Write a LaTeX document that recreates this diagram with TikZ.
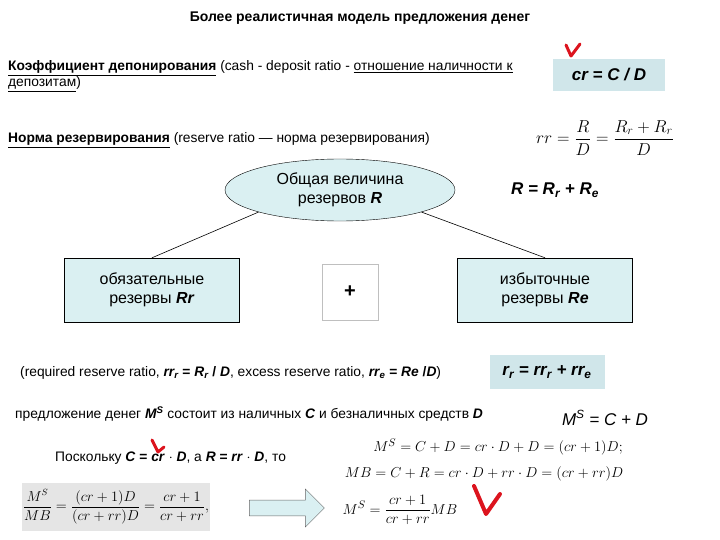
\documentclass[tikz,border=0pt]{standalone}
\usepackage{amsmath}
\usepackage{fontspec}
\setmainfont{Liberation Sans}
\usetikzlibrary{shapes.geometric,shapes.arrows}
\definecolor{lb}{RGB}{208,230,234}
\definecolor{lb2}{RGB}{218,240,242}
\definecolor{chk}{RGB}{220,20,30}
\tikzset{
 txt/.style={anchor=west,inner sep=0,font=\fontsize{13.8}{16}\selectfont},
 blk/.style={draw=black,fill=lb2,minimum width=175pt,minimum height=64pt,align=center,font=\fontsize{16}{19}\selectfont},
 fbox/.style={fill=lb,inner sep=4pt,font=\fontsize{17}{20}\selectfont\bfseries\itshape},
 conn/.style={draw=black,line width=0.6pt},
 check/.style={draw=chk,line width=3pt,line cap=round,line join=round}
}
\begin{document}
\begin{tikzpicture}[x=1pt,y=-1pt]
\useasboundingbox (0,0) rectangle (720,540);
\node (title) at (360,18) {\fontsize{14}{16}\selectfont\bfseries Более реалистичная модель предложения денег};
\node[txt,align=left,anchor=north west] (l1) at (8,60) {\underline{\bfseries Коэффициент депонирования} (cash - deposit ratio - \underline{отношение наличности к}\\ \underline{депозитам})};
\node[fbox,minimum width=112pt,minimum height=32pt] (cr) at (609,75) {cr = C / D};
\node[txt] (l2) at (8,140) {\underline{\bfseries Норма резервирования} (reserve ratio — норма резервирования)};
\node (rrf) at (605,138) {\fontsize{17}{20}\selectfont $rr=\dfrac{R}{D}=\dfrac{R_r+R_r}{D}$};
\node[ellipse,draw=black,fill=lb2,minimum width=230pt,minimum height=62pt,align=center,font=\fontsize{16}{19}\selectfont] (ell) at (340,190) {Общая величина\\ резервов \textbf{\textit{R}}};
\node (req) at (555,190) {\fontsize{17}{20}\selectfont\bfseries\itshape R = R\textsubscript{r} + R\textsubscript{e}};
\node[blk] (left) at (152,290) {обязательные\\ резервы \textbf{\textit{Rr}}};
\node[blk] (right) at (545,290) {избыточные\\ резервы \textbf{\textit{Re}}};
\node[draw=black!25,fill=white,minimum width=56pt,minimum height=56pt,font=\fontsize{20}{24}\selectfont\bfseries] (plus) at (350,292) {+};
\draw[conn] (left.north) -- (ell.south west);
\draw[conn] (right.north) -- (ell.south east);
\node[txt] (l3) at (20,373) {(required reserve ratio, \textbf{\textit{rr\textsubscript{r}} = \textit{R\textsubscript{r}} / \textit{D}}, excess reserve ratio, \textbf{\textit{rr\textsubscript{e}} = \textit{Re} /\textit{D}})};
\node[fbox,minimum width=115pt,minimum height=34pt] (rrbox) at (547,372) {r\textsubscript{r} = rr\textsubscript{r} + rr\textsubscript{e}};
\node[txt] (l4) at (15,414) {предложение денег \textbf{\textit{M\textsuperscript{S}}} состоит из наличных \textbf{\textit{C}} и безналичных средств \textbf{\textit{D}}};
\node (msf) at (605,418) {\fontsize{17}{20}\selectfont\itshape M\textsuperscript{S} = C + D};
\node[txt] (l5) at (55,458) {Поскольку \textbf{\textit{C} = \textit{cr} $\cdot$ \textit{D}}, а \textbf{\textit{R} = \textit{rr} $\cdot$ \textit{D}}, то};
\node (f1) at (498,447) {\fontsize{15}{18}\selectfont $M^S=C+D=cr\cdot D+D=(cr+1)D;$};
\node (f2) at (484,474) {\fontsize{15}{18}\selectfont $MB=C+R=cr\cdot D+rr\cdot D=(cr+rr)D$};
\node[fill=black!10,minimum width=188pt,minimum height=48pt,inner sep=0] (lf) at (116,507) {\fontsize{13.5}{16}\selectfont $\dfrac{M^S}{MB}=\dfrac{(cr+1)D}{(cr+rr)D}=\dfrac{cr+1}{cr+rr},$};
\node[single arrow,draw=black!60,fill=lb2,minimum width=38pt,single arrow head extend=5pt,minimum height=75pt] (arr) at (283,508) {};
\node (rf) at (400,510) {\fontsize{15}{18}\selectfont $M^S=\dfrac{cr+1}{cr+rr}MB$};
\draw[check] (566,45) -- (571,56) -- (580,44);
\draw[check] (152,440) -- (158,452) -- (164,447);
\draw[check,line width=4pt] (474,486) -- (486,514) -- (500,494);
\end{tikzpicture}
\end{document}
